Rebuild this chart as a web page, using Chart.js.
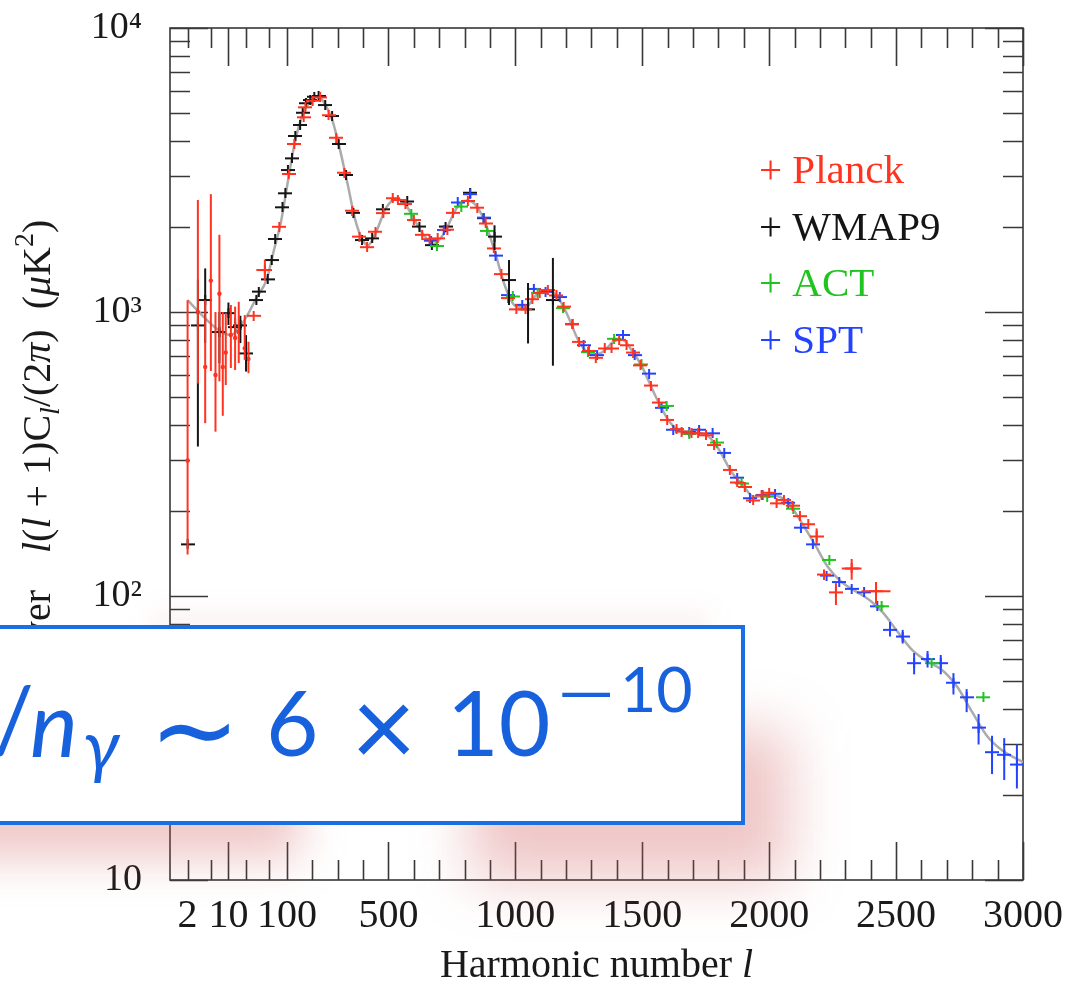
<!DOCTYPE html>
<html>
<head>
<meta charset="utf-8">
<title>CMB power spectrum</title>
<script src="https://cdn.jsdelivr.net/npm/chart.js@4.4.1/dist/chart.umd.min.js"></script>
<style>
  html, body { margin: 0; padding: 0; background: #fff; }
  #wrap { position: relative; width: 1081px; height: 984px; overflow: hidden; }
  #chart { position: absolute; left: 0; top: 0; }
  .glow { position: absolute; }
  #glowA { left: -260px; top: 775px; width: 560px; height: 85px; filter: blur(22px); background: rgba(205, 80, 80, 0.3); }
  #glowB { left: 470px; top: 730px; width: 320px; height: 150px; filter: blur(28px); background: rgba(205, 80, 80, 0.32); }
  #glowC { left: 150px; top: 610px; width: 560px; height: 30px; filter: blur(12px); background: rgba(205, 80, 80, 0.07); }
  #note { position: absolute; left: -420px; top: 625px; width: 1165px; height: 200px;
          box-sizing: border-box; border: 4px solid #1a6fe2; background: #fff; }
  .eq { position: absolute; display: block; height: 0; line-height: 0; white-space: pre;
        color: #1761dd; transform-origin: 0 0; }
</style>
</head>
<body>
<div id="wrap">
  <canvas id="chart" width="1081" height="984"></canvas>
  <div class="glow" id="glowA"></div>
  <div class="glow" id="glowB"></div>
  <div class="glow" id="glowC"></div>
  <div id="note"></div>
</div>
<script>
// axis ticks (l values on the hybrid log/linear axis)
const xTickL = [2, 10, 100, 500, 1000, 1500, 2000, 2500, 3000];
const xMajorL = [10, 100, 500, 1000, 1500, 2000, 2500, 3000];
const xMinorL = [2, 5, 20, 50];
for (let l = 200; l < 3000; l += 100) if (l % 500) xMinorL.push(l);
const yTickV = [10, 100, 1000, 10000];
const yTickText = ['10', '10²', '10³', '10⁴'];

// best-fit model (grey curve)
const modelL = [2, 4, 7, 11, 16, 22, 30, 45, 60, 80, 100, 130, 160, 190, 220, 250, 280, 310, 340, 370, 400, 420, 450, 490, 530, 560, 600, 640, 680, 720, 770, 810, 840, 880, 920, 960, 1000, 1040, 1080, 1120, 1160, 1200, 1250, 1300, 1340, 1390, 1420, 1460, 1500, 1550, 1600, 1640, 1700, 1760, 1800, 1850, 1900, 1940, 1980, 2030, 2080, 2130, 2180, 2230, 2280, 2340, 2400, 2450, 2500, 2560, 2620, 2680, 2740, 2800, 2860, 2920, 3000];
const modelD = [1100, 950, 860, 830, 890, 990, 1120, 1300, 1650, 2100, 2750, 3900, 4900, 5500, 5750, 5400, 4700, 3700, 2800, 2100, 1780, 1720, 1900, 2320, 2500, 2440, 2130, 1860, 1740, 1900, 2330, 2470, 2400, 2080, 1620, 1230, 1050, 1040, 1140, 1190, 1150, 1000, 790, 710, 720, 790, 800, 730, 640, 510, 420, 385, 378, 365, 330, 275, 243, 223, 226, 225, 210, 180, 152, 127, 113, 104, 96, 87, 76, 65, 59, 55, 48, 39, 32, 28.5, 26];

// Planck low-l (unbinned)
const planckLowL = [2, 3, 4, 5, 6, 7, 8, 9, 11, 13, 15, 19, 22];
const planckLowD = [300, 1000, 640, 1290, 600, 1160, 640, 720, 830, 810, 850, 745, 683];
const planckLowLo = [140, 560, 406, 620, 379, 570, 431, 553, 635, 625, 661, 678, 609];
const planckLowHi = [1100, 2480, 1100, 2600, 1000, 1870, 1000, 991, 1058, 1044, 1086, 975, 786];

// Planck binned
const planckL = [27, 42, 74, 107, 129, 166, 173, 201, 231, 264, 294, 326, 357, 386, 416, 449, 480, 517, 537, 567, 600, 633, 662, 694, 732, 754, 813, 850, 883, 915, 945, 971, 1004, 1040, 1067, 1096, 1128, 1162, 1190, 1225, 1251, 1290, 1317, 1352, 1379, 1409, 1438, 1464, 1493, 1534, 1565, 1598, 1635, 1655, 1694, 1720, 1751, 1783, 1845, 1874, 1904, 1937, 1970, 2000, 2029, 2058, 2092, 2121, 2154, 2187, 2216, 2263, 2325, 2421];
const planckD = [970, 1405, 1996, 3062, 3905, 4849, 5258, 5546, 5700, 4930, 4109, 3093, 2274, 1843, 1692, 1917, 2230, 2515, 2479, 2400, 2108, 1870, 1805, 1817, 1950, 2234, 2460, 2330, 2050, 1675, 1360, 1120, 1022, 1022, 1110, 1166, 1195, 1144, 1045, 908, 785, 729, 690, 744, 744, 798, 764, 720, 649, 551, 480, 417, 387, 379, 374, 374, 368, 340, 278, 251, 242, 217, 226, 231, 212, 218, 208, 191, 179, 162, 119, 103, 125, 104];
const planckBarL = [42, 2187, 2216, 2263, 2325, 2421];
const planckBarLo = [1290, 152, 114, 93, 114, 94];
const planckBarHi = [1530, 173, 124, 111, 135, 112];
const planckBarW = [12, 0, 0, 0, 39, 57];

// WMAP9
const wmapL = [2, 3, 4, 7, 10, 13, 16, 20, 30, 33, 47, 55, 63, 84, 94, 104, 120, 133, 152, 162, 175, 192, 208, 225, 251, 278, 304, 333, 362, 396, 436, 478, 574, 622, 671, 725, 822, 875, 918, 975, 1050, 1148];
const wmapD = [152, 897, 1102, 850, 991, 885, 897, 715, 1102, 1180, 1303, 1524, 1808, 2337, 2618, 3162, 3476, 4167, 4555, 5032, 5433, 5578, 5728, 5763, 5356, 4900, 3905, 3037, 2234, 1792, 1817, 2300, 2450, 2000, 1720, 2000, 2630, 2140, 1843, 1296, 1022, 1102];
const wmapBarL = [3, 4, 7, 10, 13, 16, 20, 918, 975, 1050, 1148];
const wmapBarLo = [336, 777, 660, 900, 820, 777, 617, 1653, 1058, 775, 647];
const wmapBarHi = [1300, 1424, 1000, 1080, 950, 970, 829, 2020, 1524, 1265, 1550];

// ACT
const actL = [590, 691, 787, 888, 990, 1088, 1188, 1286, 1389, 1497, 1596, 1685, 1793, 1891, 1992, 2095, 2237, 2443, 2640, 2844];
const actD = [2217, 1707, 2350, 1930, 1134, 1168, 1032, 723, 805, 654, 467, 372, 347, 249, 224, 203, 134, 92, 58, 44];

// SPT
const sptL = [668, 718, 773, 822, 875, 922, 973, 1027, 1073, 1119, 1175, 1225, 1269, 1322, 1424, 1470, 1527, 1576, 1622, 1685, 1724, 1777, 1823, 1874, 1924, 1974, 2023, 2075, 2125, 2172, 2226, 2276, 2325, 2374, 2426, 2476, 2526, 2571, 2624, 2676, 2726, 2778, 2825, 2878, 2926, 2976];
const sptD = [1783, 1944, 2430, 2600, 2150, 1580, 1147, 1060, 1206, 1178, 1129, 905, 764, 705, 830, 705, 607, 460, 385, 378, 385, 374, 319, 261, 221, 227, 229, 213, 174, 152, 118, 112, 106, 103, 92, 76, 72, 58, 60, 58, 49.5, 44, 34.4, 28.2, 27.6, 25.5];
const sptBarL = [2476, 2526, 2571, 2624, 2676, 2726, 2778, 2825, 2878, 2926, 2976];
const sptBarLo = [72, 68, 53, 56, 53, 45, 39, 30, 23.6, 22.5, 21];
const sptBarHi = [81, 76, 63, 64, 62, 53.5, 47, 38.4, 32.2, 31.6, 30];

const RED = '#ff3320';
const BLACK = '#151515';
const GREEN = '#1fc41f';
const BLUE = '#2443ff';
const SERIF = '"Liberation Serif", "Times New Roman", serif';
const EQFONT = 'Lato, "Open Sans", sans-serif';

// boxed note n_B/n_γ ~ 6 × 10^-10, pieces placed by ink box (left / bottom, height or width)
const eqPieces = [
  { t: 'n', it: 1, left: -78, bottom: 757 },
  { t: 'B', it: 1, left: -32, bottom: 772, h: 40 },
  { t: '/', left: -4, bottom: 757 },
  { t: 'n', it: 1, left: 32, bottom: 757 },
  { t: 'γ', it: 1, left: 85, bottom: 783, h: 50 },
  { t: '∼', left: 160, bottom: 743, w: 70 },
  { t: '6', left: 270, bottom: 757 },
  { t: '×', left: 358, bottom: 755, h: 52 },
  { t: '10', left: 454, bottom: 757, sw: 94 },
  { t: '−', left: 561, bottom: 697, h: 5, sw: 49 },
  { t: '10', left: 625, bottom: 713, h: 46, sw: 66 },
];

const probe = document.createElement('canvas').getContext('2d');
const measure = (t, it, size) => {
  probe.font = `${it ? 'italic ' : ''}${size}px ${EQFONT}`;
  return probe.measureText(t);
};
const inkH = (m) => m.actualBoundingBoxAscent + m.actualBoundingBoxDescent;
const inkW = (m) => m.actualBoundingBoxLeft + m.actualBoundingBoxRight;

const placeNote = () => {
  const wrap = document.getElementById('wrap');
  const mainSize = 100 * 67 / inkH(measure('6', 0, 100));
  eqPieces.forEach((p) => {
    let size = mainSize;
    if (p.t === '−') {
      size = mainSize * 0.7;
    } else if (p.h) {
      size = 100 * p.h / inkH(measure(p.t, p.it, 100));
    } else if (p.w) {
      size = 100 * p.w / inkW(measure(p.t, p.it, 100));
    }
    const m = measure(p.t, p.it, size);
    const sx = p.sw ? p.sw / inkW(m) : 1;
    const baseline = p.t === '−'
      ? p.bottom - 2.5 + (m.actualBoundingBoxAscent - m.actualBoundingBoxDescent) / 2
      : p.bottom - m.actualBoundingBoxDescent;
    const span = document.createElement('span');
    span.className = 'eq';
    span.textContent = p.t;
    span.style.font = `${p.it ? 'italic ' : ''}${size}px ${EQFONT}`;
    span.style.lineHeight = '0';
    span.style.left = (p.left + m.actualBoundingBoxLeft * sx) + 'px';
    span.style.top = (baseline - (m.fontBoundingBoxAscent - m.fontBoundingBoxDescent) / 2) + 'px';
    if (sx !== 1) span.style.transform = `scaleX(${sx})`;
    wrap.appendChild(span);
  });
};
placeNote();

// log below l = 100, linear above, with matching slope at the join
const toAxis = (l) => (l >= 100 ? l : 100 + 100 * Math.log(l / 100));
const fromAxis = (u) => (u >= 100 ? u : 100 * Math.exp((u - 100) / 100));

const LinearBase = Chart.LinearScale || Chart.registry.getScale('linear');

class HybridScale extends LinearBase {
  determineDataLimits() {
    this.min = toAxis(this.options.min);
    this.max = toAxis(this.options.max);
  }
  buildTicks() {
    return xTickL.map((l) => ({ value: l }));
  }
  getPixelForValue(value) {
    return super.getPixelForValue(toAxis(value));
  }
  getValueForPixel(pixel) {
    return fromAxis(super.getValueForPixel(pixel));
  }
}
HybridScale.id = 'hybrid';
HybridScale.defaults = {};
Chart.register(HybridScale);

const points = (L, D) => L.map((l, i) => ({ x: l, y: D[i] }));

const crossImage = (color) => {
  const c = document.createElement('canvas');
  c.width = 14;
  c.height = 10;
  const g = c.getContext('2d');
  g.strokeStyle = color;
  g.lineWidth = 2;
  g.beginPath();
  g.moveTo(0, 5);
  g.lineTo(14, 5);
  g.moveTo(7, 0);
  g.lineTo(7, 10);
  g.stroke();
  return c;
};

const crossSeries = (label, L, D, color, order, bars) => ({
  label: label,
  data: points(L, D),
  borderColor: color,
  backgroundColor: color,
  pointStyle: crossImage(color),
  pointRadius: 5,
  showLine: false,
  order: order,
  bars: bars,
  inLegend: true,
});

const runsWidth = (ctx, runs, size) => {
  let w = 0;
  runs.forEach((r) => {
    const fs = r.sub || r.sup ? size * 0.7 : size;
    ctx.font = `${r.it ? 'italic ' : ''}${fs}px ${SERIF}`;
    w += ctx.measureText(r.t).width;
  });
  return w;
};

const drawRuns = (ctx, runs, x, y, size) => {
  let cx = x;
  runs.forEach((r) => {
    const fs = r.sub || r.sup ? size * 0.7 : size;
    ctx.font = `${r.it ? 'italic ' : ''}${fs}px ${SERIF}`;
    const dy = r.sub ? size * 0.22 : r.sup ? -size * 0.42 : 0;
    ctx.fillText(r.t, cx, y + dy);
    cx += ctx.measureText(r.t).width;
  });
};

const yTitlePrefix = [{ t: 'Power' }];
const yTitleRuns = [
  { t: 'l', it: 1 }, { t: '(' }, { t: 'l', it: 1 }, { t: ' + 1)C' },
  { t: 'l', it: 1, sub: 1 }, { t: '/(2' }, { t: 'π', it: 1 }, { t: ')  (' },
  { t: 'μ', it: 1 }, { t: 'K' }, { t: '2', sup: 1 }, { t: ')' },
];
const xTitleRuns = [{ t: 'Harmonic number ' }, { t: 'l', it: 1 }];

const framePlugin = {
  id: 'frame',
  beforeDatasetsDraw(chart) {
    const { ctx, chartArea: a, scales } = chart;
    const x = scales.x;
    const y = scales.y;
    ctx.save();
    ctx.strokeStyle = '#383838';
    ctx.lineWidth = 1.6;
    ctx.strokeRect(a.left, a.top, a.width, a.height);
    ctx.beginPath();
    const xTick = (l, len) => {
      const px = Math.round(x.getPixelForValue(l)) + 0.5;
      ctx.moveTo(px, a.bottom);
      ctx.lineTo(px, a.bottom - len);
      ctx.moveTo(px, a.top);
      ctx.lineTo(px, a.top + len);
    };
    const yTick = (v, len) => {
      const py = Math.round(y.getPixelForValue(v)) + 0.5;
      ctx.moveTo(a.left, py);
      ctx.lineTo(a.left + len, py);
      ctx.moveTo(a.right, py);
      ctx.lineTo(a.right - len, py);
    };
    xMajorL.forEach((l) => xTick(l, 38));
    xMinorL.forEach((l) => xTick(l, 20));
    yTickV.forEach((v) => yTick(v, 38));
    [10, 100, 1000].forEach((d) => {
      for (let m = 2; m <= 9; m++) yTick(m * d, 20);
    });
    ctx.stroke();
    ctx.restore();
  },
};

const barPlugin = {
  id: 'bars',
  afterDatasetsDraw(chart) {
    const { ctx, chartArea: a, scales } = chart;
    const x = scales.x;
    const y = scales.y;
    ctx.save();
    ctx.beginPath();
    ctx.rect(a.left, a.top, a.width, a.height);
    ctx.clip();
    chart.data.datasets.forEach((ds) => {
      if (!ds.bars) return;
      const b = ds.bars;
      ctx.strokeStyle = ds.borderColor;
      ctx.lineWidth = 2;
      b.l.forEach((l, i) => {
        const px = x.getPixelForValue(l);
        ctx.beginPath();
        ctx.moveTo(px, y.getPixelForValue(b.lo[i]));
        ctx.lineTo(px, y.getPixelForValue(b.hi[i]));
        if (b.w && b.w[i]) {
          const p = ds.data.find((q) => q.x === l);
          const py = y.getPixelForValue(p.y);
          ctx.moveTo(x.getPixelForValue(l - b.w[i]), py);
          ctx.lineTo(x.getPixelForValue(l + b.w[i]), py);
        }
        ctx.stroke();
      });
    });
    ctx.restore();
  },
};

const textPlugin = {
  id: 'texts',
  afterDraw(chart) {
    const { ctx, chartArea: a } = chart;
    ctx.save();
    ctx.fillStyle = '#1a1a1a';
    ctx.textBaseline = 'alphabetic';
    ctx.textAlign = 'left';

    // x title
    const xw = runsWidth(ctx, xTitleRuns, 40);
    drawRuns(ctx, xTitleRuns, (a.left + a.right) / 2 - xw / 2, a.bottom + 97, 40);

    // y title, rotated; the leading word runs on under the boxed note
    ctx.save();
    ctx.translate(50, 553);
    ctx.rotate(-Math.PI / 2);
    drawRuns(ctx, yTitleRuns, 0, 0, 40);
    const pw = runsWidth(ctx, yTitlePrefix, 40);
    drawRuns(ctx, yTitlePrefix, -37 - pw, 0, 40);
    ctx.restore();

    // legend
    ctx.font = `41px ${SERIF}`;
    chart.data.datasets.filter((d) => d.inLegend).forEach((d, i) => {
      ctx.fillStyle = d.borderColor;
      ctx.fillText('+ ' + d.label, 759, a.top + 155 + i * 56.5);
    });
    ctx.restore();
  },
};

new Chart(document.getElementById('chart'), {
  type: 'scatter',
  data: {
    datasets: [
      {
        label: 'model',
        data: points(modelL, modelD),
        showLine: true,
        borderColor: '#ababab',
        borderWidth: 2.5,
        pointRadius: 0,
        cubicInterpolationMode: 'monotone',
        order: 6,
      },
      crossSeries('Planck', planckL, planckD, RED, 2, { l: planckBarL, lo: planckBarLo, hi: planckBarHi, w: planckBarW }),
      crossSeries('WMAP9', wmapL, wmapD, BLACK, 5, { l: wmapBarL, lo: wmapBarLo, hi: wmapBarHi }),
      crossSeries('ACT', actL, actD, GREEN, 3, null),
      crossSeries('SPT', sptL, sptD, BLUE, 4, { l: sptBarL, lo: sptBarLo, hi: sptBarHi }),
      {
        label: 'Planck low-l',
        data: points(planckLowL, planckLowD),
        borderColor: RED,
        backgroundColor: RED,
        pointStyle: 'circle',
        pointRadius: 2.2,
        pointBorderWidth: 0,
        showLine: false,
        order: 2,
        bars: { l: planckLowL, lo: planckLowLo, hi: planckLowHi },
      },
    ],
  },
  options: {
    responsive: false,
    animation: false,
    devicePixelRatio: 1,
    layout: { padding: { top: 28, right: 58, left: 0, bottom: 0 } },
    plugins: { legend: { display: false }, tooltip: { enabled: false } },
    scales: {
      x: {
        type: 'hybrid',
        position: 'bottom',
        min: 1,
        max: 3000,
        grid: { display: false },
        border: { display: false },
        ticks: {
          autoSkip: false,
          maxRotation: 0,
          minRotation: 0,
          padding: 4,
          color: '#1a1a1a',
          font: { family: SERIF, size: 40 },
          callback: (v) => String(v),
        },
        afterFit: (s) => {
          s.height = 104;
          s.paddingLeft = 0;
          s.paddingRight = 0;
        },
      },
      y: {
        type: 'logarithmic',
        position: 'left',
        min: 10,
        max: 10000,
        grid: { display: false },
        border: { display: false },
        afterBuildTicks: (s) => { s.ticks = yTickV.map((v) => ({ value: v })); },
        ticks: {
          autoSkip: false,
          padding: 20,
          color: '#1a1a1a',
          font: { family: SERIF, size: 38 },
          callback: (v, i) => yTickText[i],
        },
        afterFit: (s) => {
          s.width = 170;
          s.paddingTop = 0;
          s.paddingBottom = 0;
        },
      },
    },
  },
  plugins: [framePlugin, barPlugin, textPlugin],
});
</script>
</body>
</html>
